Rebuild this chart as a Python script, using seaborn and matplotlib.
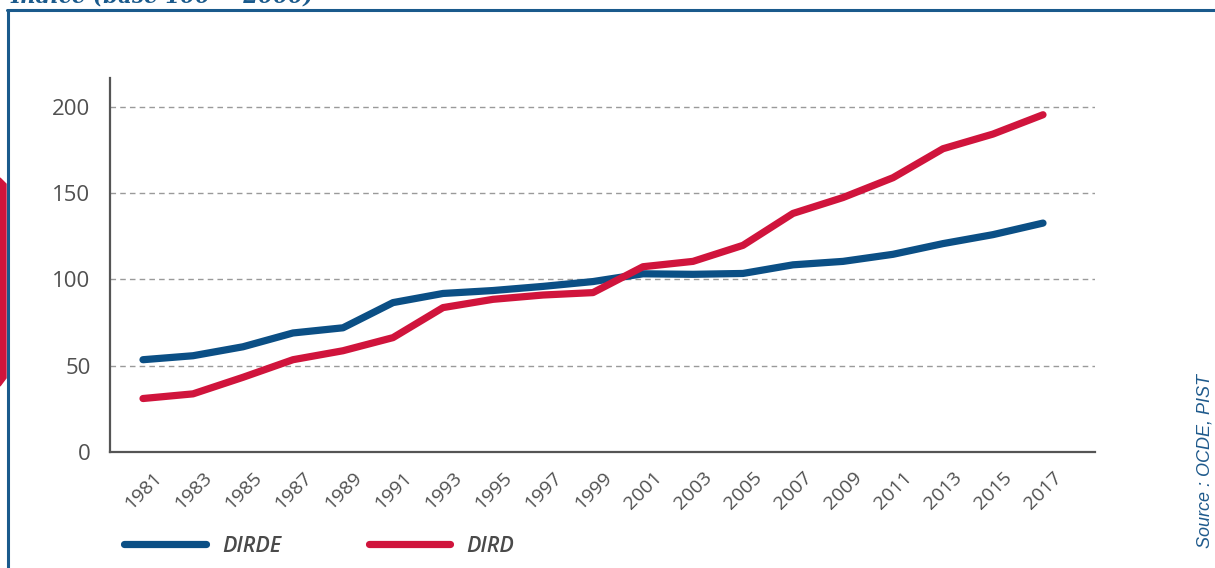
import pandas as pd
import matplotlib.pyplot as plt
import seaborn as sns
from matplotlib.lines import Line2D
from matplotlib.patches import Polygon

sns.set_theme(style="white")
plt.rcParams["font.family"] = ["Open Sans", "DejaVu Sans"]

# Data (index, base 100 = 2000)
years = [1981, 1983, 1985, 1987, 1989, 1991, 1993, 1995, 1997, 1999,
         2001, 2003, 2005, 2007, 2009, 2011, 2013, 2015, 2017]
dirde = [53.5, 55.8, 61, 69, 72, 86.6, 91.9, 93.6, 96, 98.8,
         103.3, 103, 103.5, 108.5, 110.5, 114.6, 120.8, 126, 132.7]
dird = [31, 33.7, 43.3, 53.5, 58.7, 66.3, 83.7, 88.5, 91, 92.4,
        107.4, 110.5, 119.8, 138.3, 147.5, 159, 175.8, 184.3, 195.5]
series_names = ["DIRDE", "DIRD"]
y_ticks = [0, 50, 100, 150, 200]

df = pd.DataFrame({"year": years * 2,
                   "value": dirde + dird,
                   "serie": ["DIRDE"] * len(years) + ["DIRD"] * len(years)})

blue = "#0b4f85"
red = "#d0143c"
palette = {"DIRDE": blue, "DIRD": red}

fig = plt.figure(figsize=(12.15, 5.68), dpi=100)
ax = fig.add_axes([110 / 1215, 1 - 452 / 568, (1095 - 110) / 1215, (452 - 78) / 568])

sns.lineplot(data=df, x="year", y="value", hue="serie", palette=palette,
             linewidth=5.2, legend=False, ax=ax, solid_capstyle="round")

ax.set_xlim(1979.68, 2019.08)
ax.set_ylim(0, 216.8)
ax.set_xticks(years)
ax.set_xticklabels([str(y) for y in years], rotation=45, ha="center", va="center",
                   rotation_mode="anchor", fontsize=14, color="#505050")
ax.set_yticks(y_ticks)
ax.set_yticklabels([str(t) for t in y_ticks], fontsize=16, color="#505050")
ax.tick_params(axis="y", length=0, pad=14)
ax.tick_params(axis="x", length=0, pad=28)
ax.set_xlabel("")
ax.set_ylabel("")

for t in y_ticks[1:]:
    ax.axhline(t, color="#9a9a9a", linewidth=1.0, linestyle=(0, (4, 3)), zorder=0)

for s in ["top", "right"]:
    ax.spines[s].set_visible(False)
for s in ["left", "bottom"]:
    ax.spines[s].set_color("#555555")
    ax.spines[s].set_linewidth(1.6)

# Legend
handles = [Line2D([0], [0], color=palette[n], lw=5.2, solid_capstyle="round") for n in series_names]
leg = fig.legend(handles, series_names, loc="center left",
                 bbox_to_anchor=(105 / 1215, 1 - 546 / 568), ncol=2, frameon=False,
                 handlelength=3.8, columnspacing=4.05, handletextpad=0.75,
                 prop={"size": 15.5, "style": "italic", "weight": "semibold"})
for txt in leg.get_texts():
    txt.set_color("#4a4a4a")

# Source
fig.text(1205 / 1215, 1 - 461 / 568, "Source : OCDE, PIST", rotation=90,
         ha="center", va="center", fontsize=13, style="italic", color="#1f5a8c",
         family="Liberation Sans")

# Decorative frame and clipped header
fig.add_artist(Line2D([8 / 1215, 8 / 1215], [0, 1 - 10 / 568], color="#1a5a8c", lw=2.2,
                      transform=fig.transFigure))
fig.add_artist(Line2D([7 / 1215, 1], [1 - 10 / 568, 1 - 10 / 568], color="#1a5a8c", lw=2.2,
                      transform=fig.transFigure))
fig.add_artist(Polygon([(0, 1 - 178 / 568), (6 / 1215, 1 - 184 / 568),
                        (6 / 1215, 1 - 378 / 568), (0, 1 - 386 / 568)],
                       closed=True, color=red, transform=fig.transFigure))
fig.text(10 / 1215, 1 - 3 / 568, "Indice (base 100 = 2000)", ha="left", va="baseline",
         fontsize=15.5, family="DejaVu Serif", style="italic", weight="bold", color="#1a5a8c")

fig.savefig("out.png", dpi=100)
